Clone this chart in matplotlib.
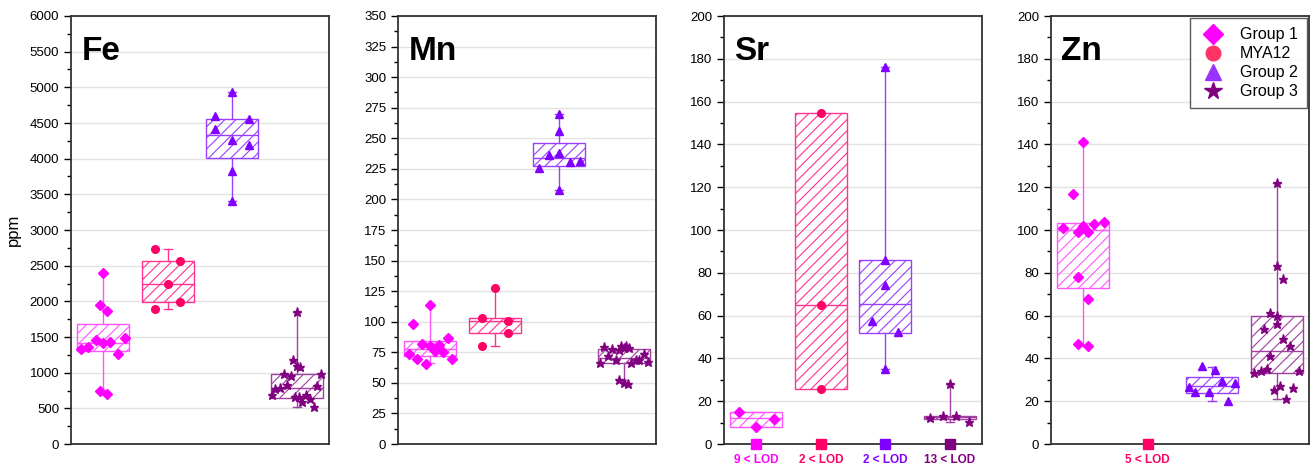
import matplotlib
matplotlib.use("Agg")
import matplotlib.pyplot as plt
from matplotlib.lines import Line2D

plt.rcParams['font.family'] = ['Liberation Sans', 'DejaVu Sans']
plt.rcParams['hatch.linewidth'] = 0.8

groups = ['Group 1', 'MYA12', 'Group 2', 'Group 3']
pt_colors = ['#FF00FF', '#FF0066', '#8000FF', '#800080']
box_colors = ['#FF55FF', '#FF3390', '#9940FF', '#A040A0']
legend_colors = ['#FF00FF', '#FF3366', '#9933FF', '#800080']
markers = ['D', 'o', '^', '*']
msizes = [4.8, 5.5, 5.5, 6.5]

# ---- Fe ----
fe_stats = [  # (whislo, q1, med, q3, whishi)
    (714, 1298, 1419, 1681, 2404),
    (1891, 1989, 2241, 2559, 2731),
    (3404, 4006, 4333, 4562, 4931),
    (518, 649, 789, 976, 1849),
]
fe_vals = [
    [1335, 1354, 1461, 1947, 2404, 1410, 1863, 1428, 1261, 1484, 738, 705],
    [2731, 2559, 2241, 1989, 1896],
    [4931, 4594, 4562, 4417, 4263, 4193, 3833, 3404],
    [691, 775, 784, 980, 822, 957, 1172, 1093, 1849, 1074, 654, 654, 588, 682, 635, 523, 808, 976],
]
fe_off = [
    [-0.34, -0.23, -0.11, -0.057, 0, 0, 0.057, 0.11, 0.23, 0.34, -0.057, 0.057],
    [-0.2, 0.19, 0, 0.19, -0.2],
    [0, -0.27, 0.26, -0.27, 0, 0.26, 0, 0],
    [-0.38, -0.33, -0.26, -0.2, -0.145, -0.088, -0.057, 0, 0, 0.057, -0.03, 0.03, 0.088, 0.14, 0.2, 0.26, 0.32, 0.37],
]

# ---- Mn ----
mn_stats = [
    (65.9, 71.9, 77.9, 84.2, 113.9),
    (79.8, 90.7, 100.2, 102.7, 127.8),
    (207.8, 227.5, 233.7, 246.0, 270.2),
    (52.6, 65.9, 70.3, 77.6, 77.6),
]
mn_vals = [
    [73.8, 97.8, 69.7, 81.7, 65.6, 113.9, 79.8, 75.7, 80.9, 74.9, 86.9, 69.7],
    [102.7, 127.8, 100.5, 90.7, 79.8],
    [225.3, 236.2, 270.2, 256.3, 237.8, 230.5, 231.3, 207.8],
    [65.9, 79.0, 72.2, 77.9, 68.9, 76.8, 79.8, 78.5, 79.8, 78.5, 65.9, 68.4, 68.9, 73.5, 66.7, 52.0, 49.8, 49.3],
]
mn_off = [
    [-0.33, -0.26, -0.2, -0.13, -0.06, 0, 0, 0.07, 0.13, 0.2, 0.27, 0.34],
    [-0.2, 0, 0.2, 0.2, -0.2],
    [-0.32, -0.16, 0, 0, 0, 0.16, 0.32, 0],
    [-0.37, -0.31, -0.24, -0.18, -0.12, -0.07, -0.035, 0, 0.035, 0.08, 0.12, 0.19, 0.24, 0.32, 0.37, -0.07, 0, 0.06],
]

# ---- Sr ----
sr_stats = [
    (7.8, 7.9, 12.0, 14.8, 14.8),
    (25.8, 25.8, 64.9, 154.7, 154.7),
    (35.2, 52.0, 65.4, 85.9, 176.2),
    (10.1, 11.8, 12.5, 13.1, 28.0),
]
sr_vals = [
    [14.8, 7.8, 11.7],
    [154.7, 64.9, 25.8],
    [176.2, 86.1, 74.2, 57.3, 52.3, 35.2],
    [12.0, 13.1, 28.0, 13.1, 10.1],
]
sr_off = [
    [-0.26, 0, 0.27],
    [0, 0, 0],
    [0, 0, 0, -0.2, 0.2, 0],
    [-0.31, -0.1, 0, 0.1, 0.3],
]
sr_lod = ['9 < LOD', '2 < LOD', '2 < LOD', '13 < LOD']

# ---- Zn ----
zn_stats = [
    (45.9, 72.8, 99.9, 103.2, 140.9),
    None,
    (19.9, 24.0, 26.9, 31.4, 35.8),
    (21.0, 33.0, 43.4, 59.9, 121.9),
]
zn_vals = [
    [100.9, 116.7, 99.0, 78.0, 46.8, 140.9, 101.9, 99.0, 67.9, 45.8, 102.9, 103.8],
    [],
    [26.5, 24.3, 36.3, 24.3, 34.6, 29.4, 20.2, 28.3],
    [33.0, 34.2, 53.9, 35.0, 61.0, 40.9, 25.1, 121.9, 83.0, 59.9, 56.0, 26.9, 76.9, 48.9, 21.0, 45.9, 26.0, 33.9],
]
zn_off = [
    [-0.32, -0.16, -0.08, -0.08, -0.08, 0, 0, 0.08, 0.08, 0.08, 0.16, 0.32],
    [],
    [-0.36, -0.26, -0.155, -0.057, 0.047, 0.15, 0.25, 0.35],
    [-0.35, -0.25, -0.2, -0.155, -0.1, -0.1, -0.05, 0, 0, 0, 0, 0.047, 0.1, 0.1, 0.145, 0.2, 0.25, 0.35],
]
zn_lod = ['', '5 < LOD', '', '']

panels = [
    ('Fe', fe_stats, fe_vals, fe_off, 6000, 500, None),
    ('Mn', mn_stats, mn_vals, mn_off, 350, 25, None),
    ('Sr', sr_stats, sr_vals, sr_off, 200, 20, sr_lod),
    ('Zn', zn_stats, zn_vals, zn_off, 200, 20, zn_lod),
]

fig = plt.figure(figsize=(13.12, 4.65), dpi=100)
lefts = [71, 398, 724, 1051]

for k, (name, stats, vals, offs, ymax, step, lod) in enumerate(panels):
    ax = fig.add_axes([lefts[k] / 1312, 21 / 465, 258 / 1312, 428 / 465])
    for i in range(4):
        pos = i + 1
        if stats[i] is not None:
            lo, q1, med, q3, hi = stats[i]
            st = [{'whislo': lo, 'q1': q1, 'med': med, 'q3': q3, 'whishi': hi, 'fliers': []}]
            c = box_colors[i]
            ax.bxp(st, positions=[pos], widths=0.8, patch_artist=True, showfliers=False,
                   boxprops=dict(facecolor='none', edgecolor=c, linewidth=1.0, hatch='///'),
                   medianprops=dict(color=c, linewidth=1.0),
                   whiskerprops=dict(color=c, linewidth=1.0),
                   capprops=dict(color=c, linewidth=1.0),
                   capwidths=0.12, manage_ticks=False, zorder=2)
        if vals[i]:
            xs = [pos + o for o in offs[i]]
            ax.plot(xs, vals[i], linestyle='none', marker=markers[i], color=pt_colors[i],
                    markersize=msizes[i], zorder=3, clip_on=False)
        if lod is not None and lod[i]:
            ax.plot([pos], [0], linestyle='none', marker='s', color=pt_colors[i],
                    markersize=6.5, clip_on=False, zorder=4)
            ax.text(pos, -ymax * 0.024, lod[i], ha='center', va='top', color=pt_colors[i],
                    fontsize=8.5, fontweight='bold')
    ax.set_xlim(0.5, 4.5)
    ax.set_ylim(0, ymax)
    ax.set_yticks(range(0, ymax + 1, step))
    ax.set_yticks([v + step / 2 for v in range(0, ymax, step)], minor=True)
    ax.set_xticks([])
    ax.tick_params(axis='y', which='major', direction='out', length=5, labelsize=9.5, width=1)
    ax.tick_params(axis='y', which='minor', direction='out', length=3, width=1)
    ax.grid(axis='y', color='#E3E3E3', linewidth=1.0, zorder=0)
    ax.set_axisbelow(True)
    for sp in ax.spines.values():
        sp.set_color('#333333')
        sp.set_linewidth(1.3)
    ax.text(0.04, 0.918, name, transform=ax.transAxes, fontsize=24, fontweight='bold',
            ha='left', va='center')
    if k == 0:
        ax.set_ylabel('ppm', fontsize=12, labelpad=6)
    if k == 3:
        handles = [Line2D([], [], linestyle='none', marker=markers[j], color=legend_colors[j],
                          markersize=[10, 10.5, 11, 13][j]) for j in range(4)]
        leg = ax.legend(handles, groups, loc='upper right', fontsize=11.5, frameon=True,
                        fancybox=False, borderaxespad=0.15, handletextpad=0.8,
                        labelspacing=0.25, borderpad=0.55, handlelength=1.8)
        leg.get_frame().set_edgecolor('#333333')
        leg.get_frame().set_linewidth(1.0)

fig.savefig('out.png', dpi=100)
